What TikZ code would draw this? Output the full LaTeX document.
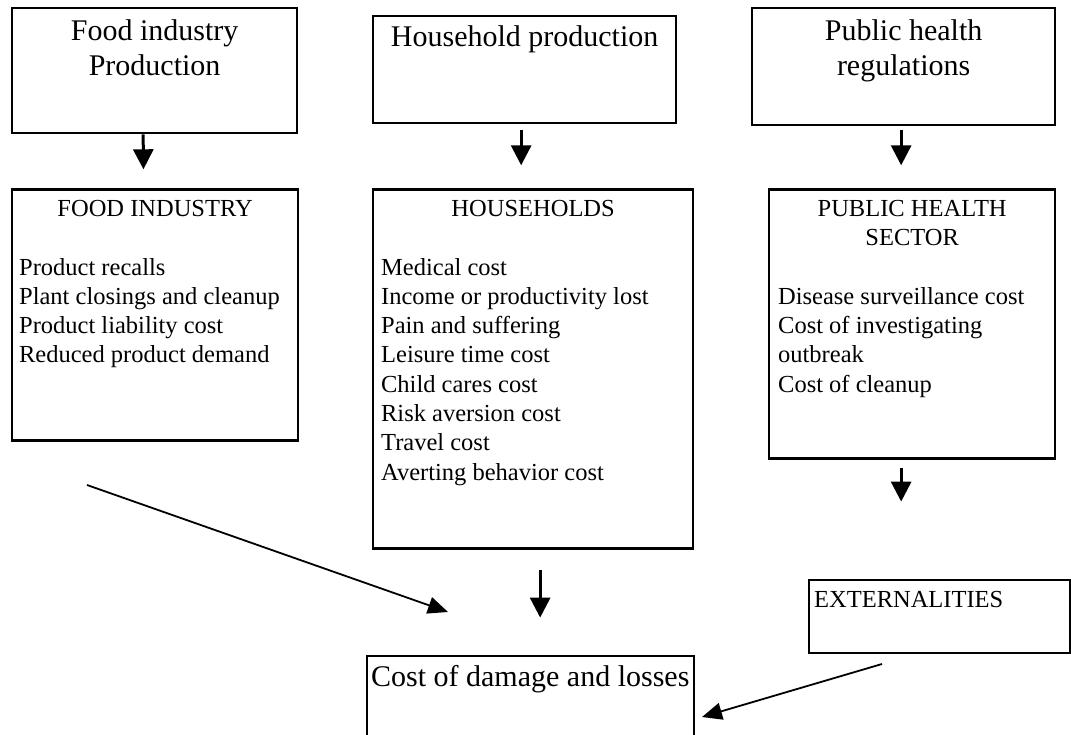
\documentclass[tikz,border=0pt]{standalone}
\usepackage{fontspec}
\setmainfont{Liberation Serif}
\usepackage{tikz}
\usetikzlibrary{calc}
\usetikzlibrary{arrows.meta}
\usetikzlibrary{positioning}

\newcommand{\bigtext}{\fontsize{30}{35}\selectfont}
\newcommand{\listtext}{\fontsize{24.5}{29.3}\selectfont}
\newcommand{\topgap}[1]{\rule{0pt}{#1}}

\begin{document}
\begin{tikzpicture}[
      x=1pt, y=-1pt,
      box/.style ={rectangle, draw=black, line width=2.3pt, inner ysep=0pt, anchor=north west},
      flow/.style ={line width=3pt, -{Triangle[length=20pt,width=20pt]}},
      slant/.style={line width=1.8pt, -{Triangle[length=20pt,width=17pt]}}
    ]
    \useasboundingbox (0,0) rectangle (1071,735);
    \clip (0,0) rectangle (1071,735);

    % top row
    \node [box, inner xsep=0pt] (prodfood) at (11,7)
      {\parbox[c][125pt][t]{285pt}{\bigtext\centering\topgap{32pt}Food industry\\ Production}};
    \node [box, inner xsep=0pt] (prodhouse) at (372,15)
      {\parbox[c][107pt][t]{303pt}{\bigtext\centering\topgap{30pt}Household production}};
    \node [box, inner xsep=0pt] (phregs) at (751,7)
      {\parbox[c][117pt][t]{303pt}{\bigtext\centering\topgap{32pt}Public health\\ regulations}};

    % cost boxes
    \node [box, inner xsep=7pt] (foodind) [below=54pt of prodfood.south west, anchor=north west]
      {\parbox[c][251pt][t]{272pt}{\listtext
        {\centering\topgap{27pt}FOOD INDUSTRY\par}\null
        Product recalls\\ Plant closings and cleanup\\ Product liability cost\\ Reduced product demand}};
    \node [box, inner xsep=8pt] (households) [below=64pt of prodhouse.south west, anchor=north west]
      {\parbox[c][359pt][t]{304pt}{\listtext
        {\centering\topgap{27pt}HOUSEHOLDS\par}\null
        Medical cost\\ Income or productivity lost\\ Pain and suffering\\ Leisure time cost\\
        Child cares cost\\ Risk aversion cost\\ Travel cost\\ Averting behavior cost}};
    \node [box, inner xsep=9pt] (phsector) [below=62pt of phregs.south west, anchor=north west, xshift=17pt]
      {\parbox[c][269pt][t]{268pt}{\listtext
        {\centering\topgap{27pt}PUBLIC HEALTH\\ SECTOR\par}\null
        Disease surveillance cost\\ Cost of investigating\\ outbreak\\ Cost of cleanup}};
    \node [box, inner xsep=5pt] (extern) [below=119pt of phsector.south west, anchor=north west, xshift=40pt]
      {\parbox[c][73pt][t]{251pt}{\listtext\topgap{28pt}EXTERNALITIES}};
    \node [box, inner xsep=4pt] (cost) [below=105pt of households.south west, anchor=north west, xshift=-6pt]
      {\parbox[c][120pt][t]{319pt}{\bigtext\topgap{31pt}Cost of damage and losses}};

    \coordinate (foodout) at (87,485);
    \coordinate (costleft) at (448,612);
    \coordinate (extout) at (882,664);
    \coordinate (costright) at (702,717);

    \draw [flow, shorten >=19pt] ([xshift=-11.5pt]prodfood.south) -- ([xshift=-11.5pt]foodind.north);
    \draw [flow, shorten <=6pt, shorten >=23pt] ($(prodhouse.south)+(-3.5,0)$) -- ($(prodhouse.south |- households.north)+(-3.5,0)$);
    \draw [flow, shorten <=4pt, shorten >=23pt] ($(phregs.south)+(-2.5,0)$) -- ($(phregs.south |- phsector.north)+(-2.5,0)$);
    \draw [flow, shorten <=8pt, shorten >=77pt] ($(phsector.south)+(-11,0)$) -- ($(phsector.south |- extern.north)+(-11,0)$);
    \draw [flow, shorten <=20pt, shorten >=37pt] ($(households.south)+(7,0)$) -- ($(households.south |- cost.north)+(7,0)$);
    \draw [slant] (foodout) -- (costleft);
    \draw [slant] (extout) -- (costright);
  \end{tikzpicture}
\end{document}
